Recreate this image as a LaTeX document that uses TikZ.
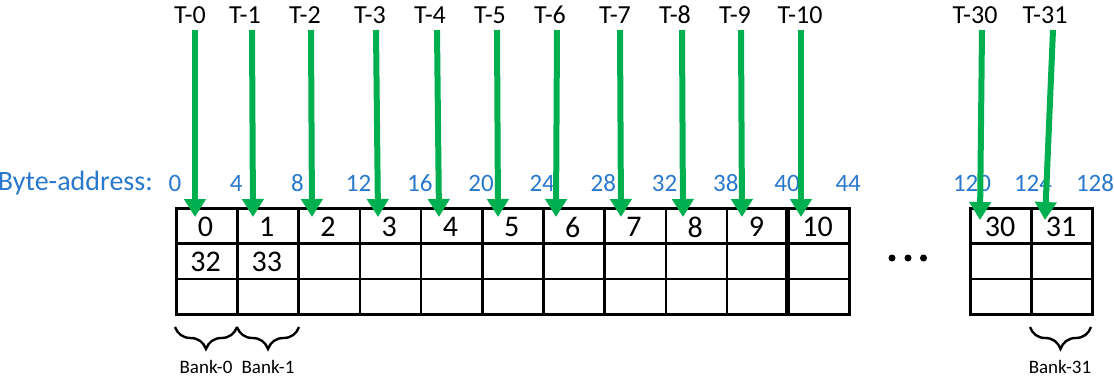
\documentclass[tikz,border=0pt]{standalone}
\usepackage{fontspec}
\setmainfont{Carlito}
\usetikzlibrary{arrows.meta,decorations.pathreplacing}
\definecolor{agreen}{RGB}{0,176,80}
\definecolor{ablue}{RGB}{40,120,205}
\tikzset{
  cell/.style={draw=black,line width=2.6pt,minimum width=61.2pt,minimum height=35.3pt,inner sep=0pt,anchor=north west},
  cellr/.style={cell,minimum width=61pt},
  celltext/.style={font=\fontsize{30}{34}\selectfont,inner sep=0pt},
  tlabel/.style={font=\fontsize{26}{30}\selectfont,inner sep=0pt,anchor=base},
  alabel/.style={text=ablue,font=\fontsize{25}{29}\selectfont,inner sep=0pt},
  garrow/.style={draw=agreen,line width=6pt,-{Triangle[width=21pt,length=18pt]}},
  bankbrace/.style={decorate,decoration={brace,mirror,amplitude=22pt},line width=2.4pt},
  banklabel/.style={font=\fontsize{19}{22}\selectfont,inner sep=0pt},
  dot/.style={fill=black,circle,inner sep=0pt,minimum size=7pt}
}
\begin{document}
\begin{tikzpicture}[x=1pt,y=-1pt]
\useasboundingbox (0,0) rectangle (1114,377);
% main grid
\foreach \c in {0,...,10}{
  \foreach \r in {0,1,2}{
    \node[cell] (m\c-\r) at ({175+61.2*\c},{207+35.3*\r}) {};
  }
  \node[celltext] (n\c) at ({175+61.2*\c+30.6},{227}) {\c};
}
\node[celltext] (n32) at (205.6,262) {32};
\node[celltext] (n33) at (266.8,262) {33};
\draw[line width=4.5pt] ({175+61.2*10},207) -- ({175+61.2*10},313);
% right grid
\foreach \c/\v in {0/30,1/31}{
  \foreach \r in {0,1,2}{
    \node[cellr] (r\c-\r) at ({969+61*\c},{207+35.3*\r}) {};
  }
  \node[celltext] (rn\c) at ({969+61*\c+31},{227}) {\v};
}
% dots
\node[dot] (d1) at (892,258) {};
\node[dot] (d2) at (908,258) {};
\node[dot] (d3) at (923.5,258) {};
% byte address labels
\node[alabel,anchor=east,font=\fontsize{28}{32}\selectfont] (ba) at (153,183) {Byte-address:};
\foreach \i/\v in {0/0,1/4,2/8,3/12,4/16,5/20,6/24,7/28,8/32,9/38,10/40,11/44}{
  \node[alabel] (a\i) at ({175+61.2*\i},183) {\v};
}
\node[alabel] (a30) at (972,183) {120};
\node[alabel] (a31) at (1033,183) {124};
\node[alabel] (a32) at (1095,183) {128};
% thread labels and arrows
\foreach \i/\lx/\sx/\ex in {0/190/195/195,1/245/252/253,2/305/311/312,3/370/376/378,4/430/437/439,5/490/497/498,6/550/557/556,7/615/620/621,8/675/682/683,9/735/741/742,10/800/801/801}{
  \node[tlabel] (t\i) at (\lx,24) {T-\i};
  \coordinate (s\i) at (\sx,30);
  \coordinate (e\i) at (\ex,217);
  \draw[garrow] (s\i) -- (e\i);
}
\node[tlabel] (t30) at (975,24) {T-30};
\node[tlabel] (t31) at (1045,24) {T-31};
\coordinate (s30) at (982,30);
\coordinate (e30) at (980,220);
\coordinate (s31) at (1053,30);
\coordinate (e31) at (1045,220);
\draw[garrow] (s30) -- (e30);
\draw[garrow] (s31) -- (e31);
% braces
\coordinate (b0a) at (175,327);
\coordinate (b0b) at (237,327);
\coordinate (b1b) at (299,327);
\coordinate (b31a) at (1030,327);
\coordinate (b31b) at (1091,327);
\draw[bankbrace] (b0a) -- (b0b);
\draw[bankbrace] (b0b) -- (b1b);
\draw[bankbrace] (b31a) -- (b31b);
\node[banklabel] (bk0) at (206,367) {Bank-0};
\node[banklabel] (bk1) at (268,367) {Bank-1};
\node[banklabel] (bk31) at (1060,367) {Bank-31};
\end{tikzpicture}
\end{document}
